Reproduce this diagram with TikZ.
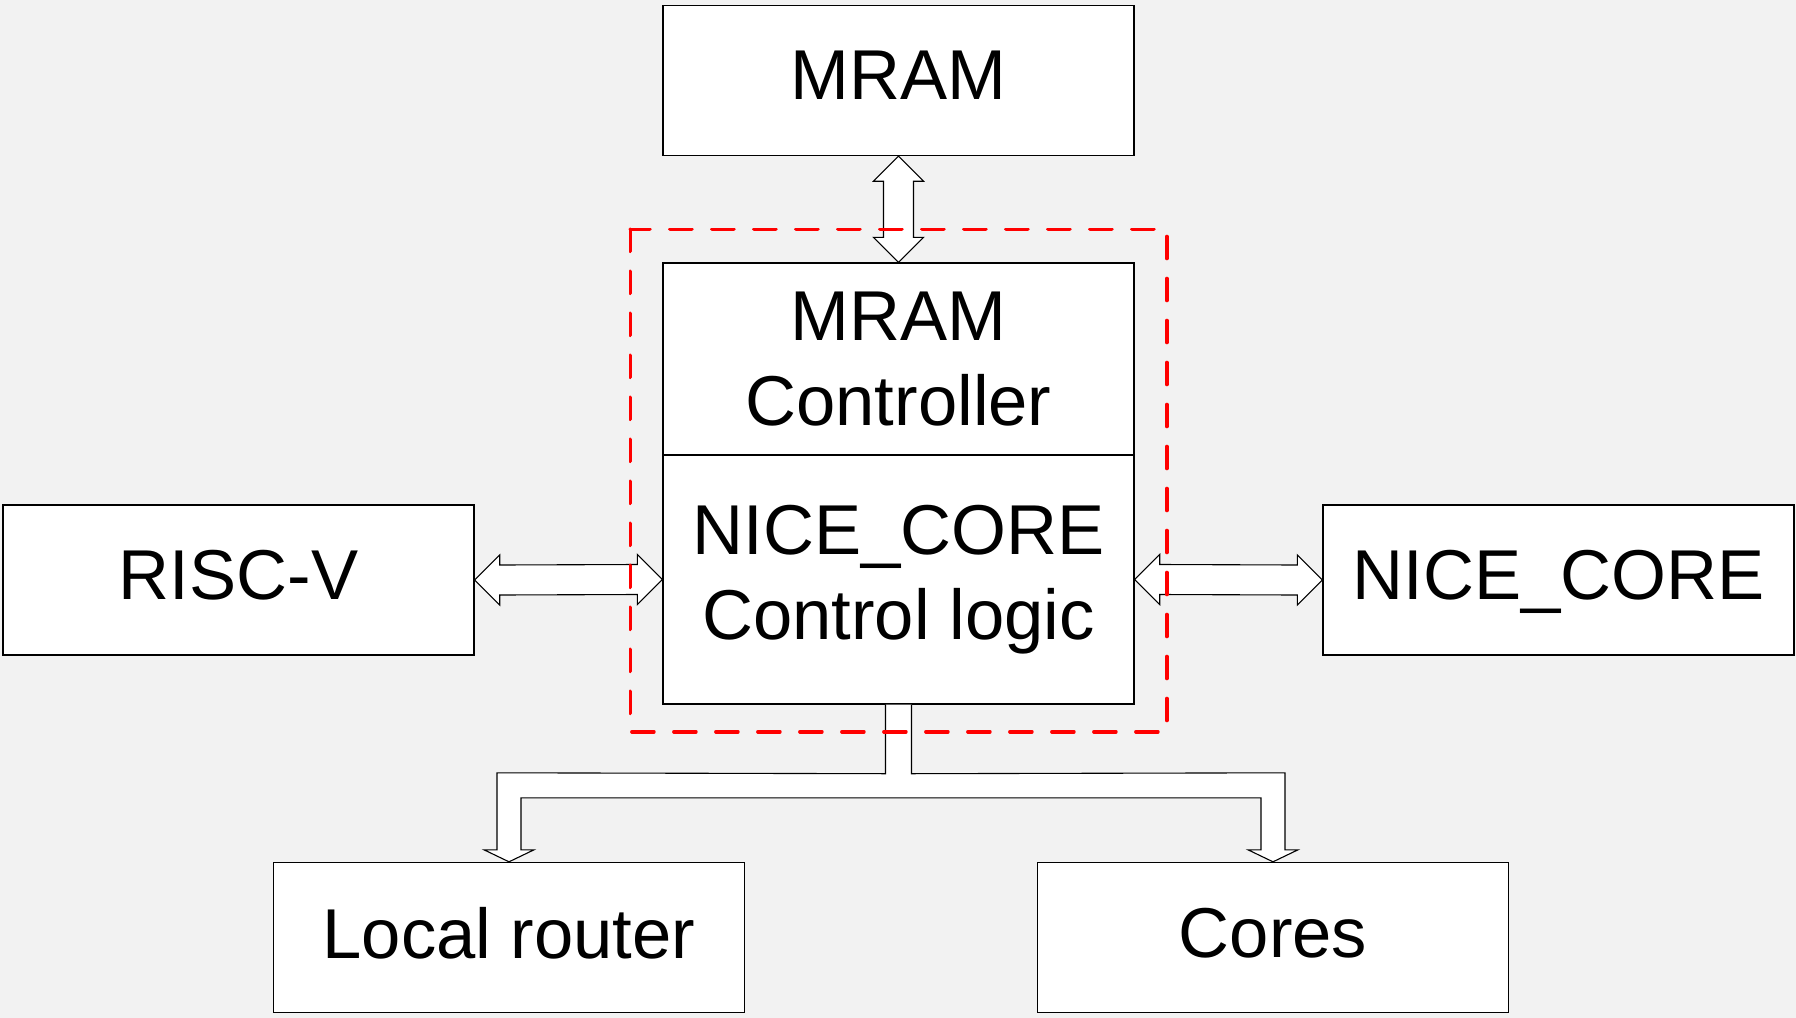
\documentclass[tikz,border=0pt]{standalone}
\usepackage{fontspec}
\setmainfont{Liberation Sans}
\usepackage{tikz}
\usetikzlibrary{arrows.meta,positioning,calc}
\definecolor{bggray}{RGB}{242,242,242}

\begin{document}
\begin{tikzpicture}[x=0.5pt,y=-0.5pt,every node/.style={font=\fontsize{35.3}{42.5}\selectfont}]
\tikzstyle{b}=[draw=black,line width=0.7pt,minimum width=235.5pt,minimum height=75pt,align=center,fill=white,inner sep=0pt]
\tikzstyle{one}=[b,text depth=5pt]
\tikzstyle{arr}=[draw=black,line width=0.55pt,fill=white,line join=miter]
\fill[bggray] (0,0) rectangle (1796,1018);
\useasboundingbox (0,0) rectangle (1796,1018);
\node[one] (mram) at (898.5,80.5) {MRAM};
\node[b,minimum height=96pt] (ctrl) at (898.5,359) {MRAM\\Controller};
\node[b,minimum height=124.5pt] (logic) at (898.5,579.5) {NICE\_CORE\\Control logic};
\node[one] (riscv) at (238.5,580) {RISC-V};
\node[one] (nice) at (1558.5,580) {NICE\_CORE};
\node[one] (router) at (509,937.5) {Local router};
\node[one] (cores) at (1273,937.5) {Cores};
% double arrows
\draw[arr] (mram.south) -- ++(-25,25) -- ++(10,0) -- ($(ctrl.north)+(-15,-25)$) -- ++(-10,0) -- (ctrl.north)
  -- ++(25,-25) -- ++(-10,0) -- ($(mram.south)+(15,25)$) -- ++(10,0) -- cycle;
\draw[arr] (riscv.east) -- ++(25,-25) -- ++(0,10) -- ($(logic.west)+(-25,-15)$) -- ++(0,-10) -- (logic.west)
  -- ++(-25,25) -- ++(0,-10) -- ($(riscv.east)+(25,15)$) -- ++(0,10) -- cycle;
\draw[arr] (logic.east) -- ++(25,-25) -- ++(0,10) -- ($(nice.west)+(-25,-15)$) -- ++(0,-10) -- (nice.west)
  -- ++(-25,25) -- ++(0,-10) -- ($(logic.east)+(25,15)$) -- ++(0,10) -- cycle;
% fork to router and cores
\draw[arr] ($(logic.south)+(-13,0)$) -- ++(0,69) -- ($(router.north)+(-12,-89)$) -- ($(router.north)+(-12,-12)$)
  -- ++(-13,0) -- (router.north) -- ++(25,-12) -- ++(-13,0) -- ($(router.north)+(12,-64)$)
  -- ($(cores.north)+(-12,-64)$) -- ($(cores.north)+(-12,-12)$) -- ++(-13,0) -- (cores.north)
  -- ++(25,-12) -- ++(-13,0) -- ($(cores.north)+(12,-89)$) -- ($(logic.south)+(13,69)$) -- ($(logic.south)+(13,0)$);
% dashed frame
\draw[red,line width=1.8pt,line cap=round,dash pattern=on 11pt off 10pt] ($(ctrl.north west)+(-32,-33)$) rectangle ($(logic.south east)+(32,27)$);
\end{tikzpicture}
\end{document}
